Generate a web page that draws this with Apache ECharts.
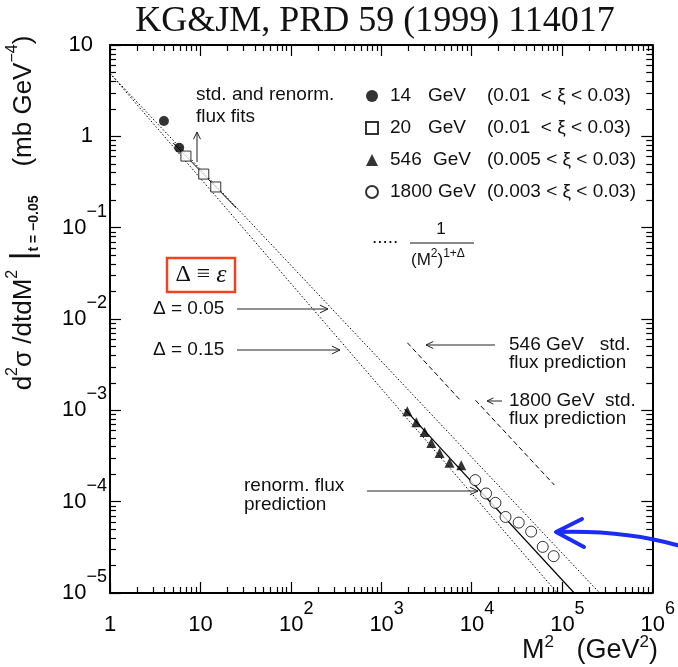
<!DOCTYPE html>
<html><head><meta charset="utf-8">
<script src="https://cdn.jsdelivr.net/npm/echarts@6/dist/echarts.min.js"></script>
<style>html,body{margin:0;padding:0;background:#fff}#c{width:678px;height:667px}</style>
</head><body><div id="c"></div>
<script>
// ---- data ----
const m2_14 = [3.95, 5.83];
const y_14 = [1.47, 0.75];
const m2_20 = [6.92, 10.9, 14.8];
const y_20 = [0.608, 0.386, 0.279];
const m2_546 = [1950, 2450, 3030, 3590, 4430, 5710, 7700];
const y_546 = [9.8e-4, 7.4e-4, 5.8e-4, 4.4e-4, 3.4e-4, 2.66e-4, 2.51e-4];
const m2_1800 = [1.10e4, 1.45e4, 1.84e4, 2.38e4, 3.33e4, 4.57e4, 6.14e4, 8.11e4];
const y_1800 = [1.72e-4, 1.23e-4, 9.7e-5, 6.8e-5, 5.9e-5, 4.7e-5, 3.2e-5, 2.53e-5];

const d005_m2 = [1, 2.62e5];
const d005_y = [4.9, 1e-5];
const d015_m2 = [1, 8.9e4];
const d015_y = [4.9, 1e-5];
const renorm_m2 = [1820, 1.37e5];
const renorm_y = [1.03e-3, 1e-5];
const lowfit_m2 = [5, 25];
const lowfit_y = [0.847, 0.164];
const std546_m2 = [1950, 7690];
const std546_y = [5.5e-3, 1.26e-3];
const std1800_m2 = [1.107e4, 8.26e4];
const std1800_y = [1.29e-3, 1.52e-4];

const legendNames = ['14', '20', '546', '1800'];
const legendRanges = ['(0.01  < ξ < 0.03)', '(0.01  < ξ < 0.03)', '(0.005 < ξ < 0.03)', '(0.003 < ξ < 0.03)'];

const xTickValues = [1, 10, 100, 1e3, 1e4, 1e5, 1e6];
const xTickLabels = ['1', '10', '10^2', '10^3', '10^4', '10^5', '10^6'];
const yTickValues = [1e-5, 1e-4, 1e-3, 1e-2, 1e-1, 1, 10];
const yTickLabels = ['10^−5', '10^−4', '10^−3', '10^−2', '10^−1', '1', '10'];

// ---- helpers ----
const pairs = (xs, ys) => xs.map((x, i) => [x, ys[i]]);
const FONT = 'Liberation Sans';
function findLabel(values, labels, v) {
  const lv = Math.log10(v);
  for (let i = 0; i < values.length; i++) if (Math.abs(Math.log10(values[i]) - lv) < 1e-6) return labels[i];
  return '';
}
const labelRich = {
  b: {fontSize: 22, fontFamily: FONT, color: '#000', lineHeight: 52},
  s: {fontSize: 18, fontFamily: FONT, color: '#000', lineHeight: 18, padding: [0, 0, 32, 0]},
  p: {width: 11, lineHeight: 52},
  q: {width: 14, lineHeight: 52}
};
function fmtX(v) {
  const l = findLabel(xTickValues, xTickLabels, v);
  if (l.indexOf('^') >= 0) { const [b, e] = l.split('^'); return '{p| }{b|' + b + '}{s|' + e + '}'; }
  return '{b|' + l + '}';
}
function fmtY(v) {
  const l = findLabel(yTickValues, yTickLabels, v);
  if (l.indexOf('^') >= 0) { const [b, e] = l.split('^'); return '{b|' + b + '}{s|' + e + '}'; }
  return '{b|' + l + '}{q| }';
}
function minorExp(lo, hi) {
  const out = [];
  for (let d = lo; d < hi; d++) for (let k = 2; k <= 9; k++) out.push(d + Math.log10(k));
  return out;
}
const black = '#000';
const majorTick = {show: true, inside: true, length: 11, lineStyle: {color: black, width: 1.2}};
const minorTick = (vals) => ({show: true, inside: true, length: 6, customValues: vals, lineStyle: {color: black, width: 1.2}});
const noLabel = {show: false};
const noSplit = {show: false};

function overlayAxis(min, max, pos, tick, line) {
  return {type: 'value', min: min, max: max, interval: 1, position: pos,
    axisLine: {show: !!line, onZero: false, lineStyle: {color: black, width: 2}},
    axisTick: tick, axisLabel: noLabel, splitLine: noSplit};
}

// ---- graphic helpers ----
function arrow(x1, y1, x2, y2, hl) {
  const ang = Math.atan2(y2 - y1, x2 - x1);
  const a1 = ang + Math.PI - 0.45, a2 = ang + Math.PI + 0.45;
  return [
    {type: 'line', shape: {x1: x1, y1: y1, x2: x2, y2: y2}, style: {stroke: '#222', lineWidth: 1}, z: 100},
    {type: 'polyline', shape: {points: [[x2 + hl * Math.cos(a1), y2 + hl * Math.sin(a1)], [x2, y2], [x2 + hl * Math.cos(a2), y2 + hl * Math.sin(a2)]]},
      style: {stroke: '#222', lineWidth: 1, fill: 'none'}, z: 100}
  ];
}
function txt(text, x, y, size, extra) {
  return {type: 'text', z: 100, style: Object.assign({text: text, x: x, y: y, font: size + 'px "' + FONT + '"', fill: '#111', textAlign: 'left', textVerticalAlign: 'middle'}, extra || {})};
}

const graphics = [].concat(
  // title
  [{type: 'text', z: 100, style: {text: 'KG&JM, PRD 59 (1999) 114017', x: 375, y: 22, font: '36px "Liberation Serif"', fill: '#111', textAlign: 'center', textVerticalAlign: 'middle'}}],
  // y axis title
  [{type: 'text', z: 100, x: 24, y: 213, rotation: Math.PI / 2,
    style: {text: '{m|d}{sp|2}{m|σ /dtdM}{sp|2}{bar| |}{sb|t = −0.05}{m|    (mb GeV}{sp|−4}{m|)}', x: 0, y: 0, textAlign: 'center', textVerticalAlign: 'middle',
      rich: {
        m: {fontSize: 26, fontFamily: FONT, fill: '#111', lineHeight: 40},
        sp: {fontSize: 16, fontFamily: FONT, fill: '#111', lineHeight: 16, padding: [0, 0, 22, 0]},
        bar: {fontSize: 34, fontFamily: FONT, fill: '#111', lineHeight: 40},
        sb: {fontSize: 14, fontWeight: 'bold', fontFamily: FONT, fill: '#111', lineHeight: 14, padding: [20, 0, 0, 0]}
      }}}],
  // x axis title
  [{type: 'text', z: 100, style: {text: '{m|M}{s|2}{m|   (GeV}{s|2}{m|)}', x: 658, y: 651, textAlign: 'right', textVerticalAlign: 'middle',
    rich: {
      m: {fontSize: 27, fontFamily: FONT, fill: '#111', lineHeight: 40},
      s: {fontSize: 17, fontFamily: FONT, fill: '#111', lineHeight: 17, padding: [0, 0, 18, 0]}
    }}}],
  // annotations
  [txt('std. and renorm.', 196, 95, 19), txt('flux fits', 196, 117, 19)],
  arrow(197, 162, 197, 132, 8),
  [txt('Δ = 0.05', 153, 309, 19), txt('Δ = 0.15', 153, 350, 19)],
  arrow(237, 309, 328, 309, 9),
  arrow(237, 350, 340, 350, 9),
  [txt('546 GeV   std.', 509, 345, 19), txt('flux prediction', 509, 363, 19)],
  arrow(495, 345, 426, 345, 8),
  [txt('1800 GeV  std.', 509, 401, 19), txt('flux prediction', 509, 419, 19)],
  arrow(502, 401, 487, 401, 7),
  [txt('renorm. flux', 244, 486, 19), txt('prediction', 244, 505, 19)],
  arrow(367, 491, 478, 491, 9),
  // fraction 1/(M^2)^(1+Δ)
  [txt('.....', 372, 238, 19),
   {type: 'text', z: 100, style: {text: '1', x: 441, y: 229, font: '17px "' + FONT + '"', fill: '#111', textAlign: 'center', textVerticalAlign: 'middle'}},
   {type: 'line', z: 100, shape: {x1: 410, y1: 243, x2: 474, y2: 243}, style: {stroke: '#111', lineWidth: 1}},
   {type: 'text', z: 100, style: {text: '{m|(M}{s|2}{m|)}{s|1+Δ}', x: 411, y: 260, textAlign: 'left', textVerticalAlign: 'middle',
     rich: {
       m: {fontSize: 17, fontFamily: FONT, fill: '#111', lineHeight: 26},
       s: {fontSize: 12, fontFamily: FONT, fill: '#111', lineHeight: 12, padding: [0, 0, 13, 0]}
     }}}],
  // red box
  [{type: 'rect', z: 100, shape: {x: 167, y: 258, width: 68, height: 34}, style: {fill: 'none', stroke: '#ef4423', lineWidth: 2.5}},
   {type: 'text', z: 100, style: {text: '{a|Δ ≡ }{e|ε}', x: 201, y: 275, textAlign: 'center', textVerticalAlign: 'middle',
     rich: {a: {fontSize: 24, fontFamily: 'Liberation Serif', fill: '#111'}, e: {fontSize: 26, fontStyle: 'italic', fontFamily: 'Liberation Serif', fill: '#111'}}}}],
  // blue arrow
  [{type: 'bezierCurve', z: 110, shape: {x1: 680, y1: 546, x2: 558, y2: 532, cpx1: 625, cpy1: 530}, style: {stroke: '#1a2cf5', lineWidth: 4, fill: 'none', lineCap: 'round'}},
   {type: 'polyline', z: 110, shape: {points: [[582, 519], [556, 532], [584, 547]]}, style: {stroke: '#1a2cf5', lineWidth: 4, fill: 'none', lineCap: 'round', lineJoin: 'round'}}]
);

const rowStyles = [
  {a: 38, b: 59}, {a: 38, b: 59}, {a: 43, b: 54}, {a: 48, b: 49}
];
const legendRich = {};
rowStyles.forEach((r, i) => {
  legendRich['a' + i] = {width: r.a, padding: [0, 0, 0, 7], fontSize: 19, fontFamily: FONT, color: '#111'};
  legendRich['b' + i] = {width: r.b, fontSize: 19, fontFamily: FONT, color: '#111'};
});
legendRich.c = {fontSize: 19, fontFamily: FONT, color: '#111'};

const lineSeries = (name, xs, ys, type, w) => ({
  name: name, type: 'line', data: pairs(xs, ys), showSymbol: false, symbol: 'none', silent: true,
  lineStyle: {color: black, width: w || 1, type: type}, z: 2, animation: false
});

const option = {
  animation: false,
  backgroundColor: '#fff',
  grid: {left: 110, right: 25, top: 45, bottom: 74},
  legend: {
    orient: 'vertical', left: 365, top: 86, padding: 0, itemWidth: 12, itemHeight: 12, itemGap: 12,
    selectedMode: false,
    data: legendNames,
    formatter: function (name) {
      const i = legendNames.indexOf(name);
      return '{a' + i + '|' + name + '}{b' + i + '|GeV}{c|' + legendRanges[i] + '}';
    },
    textStyle: {fontSize: 19, fontFamily: FONT, color: '#111', lineHeight: 20, rich: legendRich}
  },
  xAxis: [
    {type: 'log', logBase: 10, min: 1, max: 1e6, position: 'bottom',
      axisLine: {show: true, onZero: false, lineStyle: {color: black, width: 2}},
      axisTick: majorTick,
      axisLabel: {show: true, margin: 6, formatter: fmtX, rich: labelRich, showMinLabel: true, showMaxLabel: true},
      splitLine: noSplit, minorTick: {show: false}},
    overlayAxis(0, 6, 'bottom', minorTick(minorExp(0, 6)), false),
    overlayAxis(0, 6, 'top', majorTick, true),
    overlayAxis(0, 6, 'top', minorTick(minorExp(0, 6)), false)
  ],
  yAxis: [
    {type: 'log', logBase: 10, min: 1e-5, max: 10, position: 'left',
      axisLine: {show: true, onZero: false, lineStyle: {color: black, width: 2}},
      axisTick: majorTick,
      axisLabel: {show: true, margin: 3, formatter: fmtY, rich: labelRich, showMinLabel: true, showMaxLabel: true},
      splitLine: noSplit, minorTick: {show: false}},
    overlayAxis(-5, 1, 'left', minorTick(minorExp(-5, 1)), false),
    overlayAxis(-5, 1, 'right', majorTick, true),
    overlayAxis(-5, 1, 'right', minorTick(minorExp(-5, 1)), false)
  ],
  graphic: graphics,
  series: [
    lineSeries('d005', d005_m2, d005_y, [1.5, 2]),
    lineSeries('d015', d015_m2, d015_y, [1.5, 2]),
    lineSeries('renorm', renorm_m2, renorm_y, 'solid', 1.2),
    lineSeries('lowfit', lowfit_m2, lowfit_y, 'solid', 1),
    lineSeries('std546', std546_m2, std546_y, [5, 3]),
    lineSeries('std1800', std1800_m2, std1800_y, [5, 3]),
    {name: '14', type: 'scatter', data: pairs(m2_14, y_14), symbol: 'circle', symbolSize: 10, itemStyle: {color: '#000'}, z: 5},
    {name: '20', type: 'scatter', data: pairs(m2_20, y_20), symbol: 'rect', symbolSize: 10, itemStyle: {color: '#fff', borderColor: '#000', borderWidth: 1}, z: 5},
    {name: '546', type: 'scatter', data: pairs(m2_546, y_546), symbol: 'triangle', symbolSize: 10, itemStyle: {color: '#000'}, z: 5},
    {name: '1800', type: 'scatter', data: pairs(m2_1800, y_1800), symbol: 'circle', symbolSize: 11, itemStyle: {color: '#fff', borderColor: '#000', borderWidth: 1}, z: 5}
  ]
};

const chart = echarts.init(document.getElementById('c'), null, {renderer: 'canvas'});
chart.setOption(option);
</script>
</body></html>
